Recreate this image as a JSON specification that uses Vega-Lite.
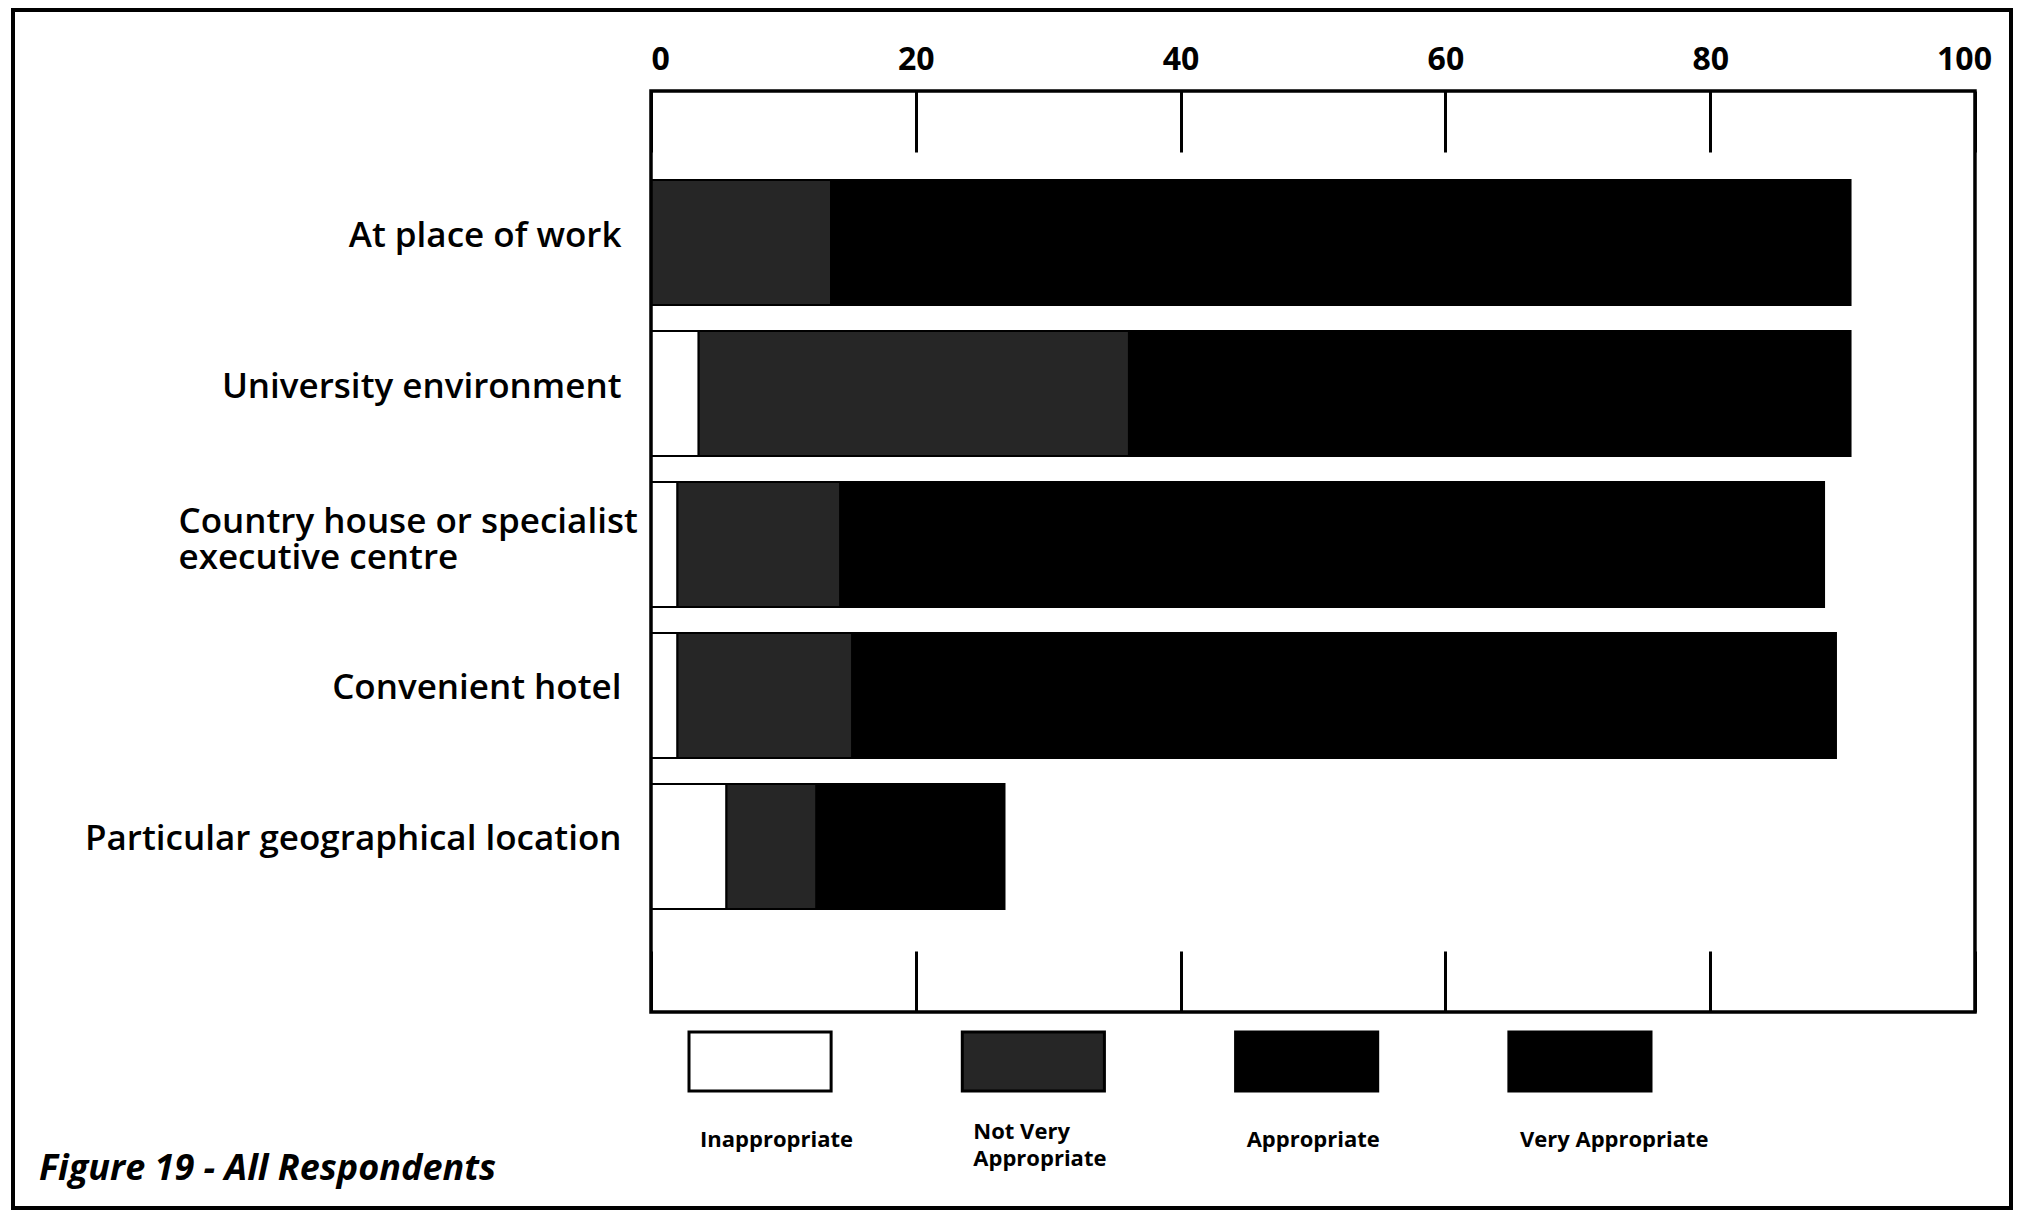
{
  "$schema": "https://vega.github.io/schema/vega-lite/v6.json",
  "background": "white",
  "padding": {"left": 13, "top": 10, "right": 3, "bottom": 2},
  "width": 1998,
  "height": 1198,
  "view": {"stroke": "black", "strokeWidth": 4},
  "title": {
    "text": "Figure 19 - All Respondents",
    "orient": "bottom",
    "anchor": "start",
    "frame": "group",
    "font": "Open Sans",
    "fontSize": 36,
    "fontWeight": "bold",
    "fontStyle": "italic",
    "color": "black",
    "offset": -56,
    "dx": 26
  },
  "datasets": {
    "bars": [
      {"place": "At place of work", "rating": "Inappropriate", "level": 1, "pct": 0},
      {"place": "At place of work", "rating": "Not Very Appropriate", "level": 2, "pct": 13.6},
      {"place": "At place of work", "rating": "Appropriate", "level": 3, "pct": 35},
      {"place": "At place of work", "rating": "Very Appropriate", "level": 4, "pct": 42},
      {"place": "University environment", "rating": "Inappropriate", "level": 1, "pct": 3.6},
      {"place": "University environment", "rating": "Not Very Appropriate", "level": 2, "pct": 32.5},
      {"place": "University environment", "rating": "Appropriate", "level": 3, "pct": 36},
      {"place": "University environment", "rating": "Very Appropriate", "level": 4, "pct": 18.5},
      {"place": "Country house or specialist executive centre", "rating": "Inappropriate", "level": 1, "pct": 2},
      {"place": "Country house or specialist executive centre", "rating": "Not Very Appropriate", "level": 2, "pct": 12.3},
      {"place": "Country house or specialist executive centre", "rating": "Appropriate", "level": 3, "pct": 38},
      {"place": "Country house or specialist executive centre", "rating": "Very Appropriate", "level": 4, "pct": 36.3},
      {"place": "Convenient hotel", "rating": "Inappropriate", "level": 1, "pct": 2},
      {"place": "Convenient hotel", "rating": "Not Very Appropriate", "level": 2, "pct": 13.2},
      {"place": "Convenient hotel", "rating": "Appropriate", "level": 3, "pct": 40},
      {"place": "Convenient hotel", "rating": "Very Appropriate", "level": 4, "pct": 34.3},
      {"place": "Particular geographical location", "rating": "Inappropriate", "level": 1, "pct": 5.7},
      {"place": "Particular geographical location", "rating": "Not Very Appropriate", "level": 2, "pct": 6.8},
      {"place": "Particular geographical location", "rating": "Appropriate", "level": 3, "pct": 10},
      {"place": "Particular geographical location", "rating": "Very Appropriate", "level": 4, "pct": 4.2}
    ],
    "ratings": [
      {"rating": "Inappropriate"},
      {"rating": "Not Very Appropriate"},
      {"rating": "Appropriate"},
      {"rating": "Very Appropriate"}
    ],
    "panels": [
      {"panel": "plot area"}
    ]
  },
  "layer": [
    {
      "data": {"name": "bars"},
      "mark": {"type": "bar", "stroke": "black", "strokeWidth": 2},
      "encoding": {
        "y": {
          "field": "place",
          "type": "nominal",
          "sort": ["At place of work", "University environment", "Country house or specialist executive centre", "Convenient hotel", "Particular geographical location"],
          "scale": {"range": [170, 899], "paddingInner": 0.172, "paddingOuter": 0},
          "axis": {
            "orient": "left",
            "offset": -638,
            "title": null,
            "domain": false,
            "ticks": false,
            "tickSize": 0,
            "grid": false,
            "labelFont": "Open Sans",
            "labelFontWeight": 600,
            "labelFontSize": 35,
            "labelColor": "black",
            "labelLimit": 800,
            "labelLineHeight": 36,
            "labelBaseline": "middle",
            "labelOffset": {"condition": {"test": "datum.value == 'Country house or specialist executive centre'", "value": -23}, "value": -7},
            "labelAlign": {"condition": {"test": "datum.value == 'Country house or specialist executive centre'", "value": "left"}, "value": "right"},
            "labelPadding": {"condition": {"test": "datum.value == 'Country house or specialist executive centre'", "value": 473}, "value": 30},
            "labelExpr": "datum.label == 'Country house or specialist executive centre' ? ['Country house or specialist', 'executive centre'] : datum.label"
          }
        },
        "x": {
          "field": "pct",
          "type": "quantitative",
          "stack": "zero",
          "scale": {"domain": [-48.187, 102.72], "nice": false, "zero": false},
          "axis": null
        },
        "color": {
          "field": "rating",
          "type": "nominal",
          "scale": {"domain": ["Inappropriate", "Not Very Appropriate", "Appropriate", "Very Appropriate"], "range": ["#ffffff", "#262626", "#000000", "#000000"]},
          "legend": null
        },
        "order": {"field": "level", "type": "quantitative", "sort": "ascending"}
      }
    },
    {
      "data": {"name": "ratings"},
      "mark": {"type": "rect", "stroke": "black", "strokeWidth": 3},
      "encoding": {
        "x": {
          "field": "rating",
          "type": "nominal",
          "sort": ["Inappropriate", "Not Very Appropriate", "Appropriate", "Very Appropriate"],
          "scale": {"range": [676, 1638], "paddingInner": 0.48, "paddingOuter": 0},
          "axis": {
            "orient": "bottom",
            "offset": -196,
            "title": null,
            "domain": false,
            "ticks": false,
            "tickSize": 0,
            "grid": false,
            "labelAngle": 0,
            "labelFont": "Open Sans",
            "labelFontWeight": "bold",
            "labelFontSize": 22,
            "labelColor": "black",
            "labelPadding": {"condition": {"test": "datum.value == 'Not Very Appropriate'", "value": 119}, "value": 127},
            "labelBaseline": "middle",
            "labelAlign": "left",
            "labelOffset": -60,
            "labelLineHeight": 27,
            "labelLimit": 400,
            "labelExpr": "datum.label == 'Not Very Appropriate' ? ['Not Very', 'Appropriate'] : datum.label"
          }
        },
        "y": {
          "datum": "swatch",
          "type": "nominal",
          "scale": {"domain": ["swatch"], "range": [1022, 1081], "paddingInner": 0, "paddingOuter": 0},
          "axis": null
        },
        "color": {
          "field": "rating",
          "type": "nominal",
          "legend": null
        }
      }
    },
    {
      "data": {"name": "panels"},
      "mark": {"type": "rect", "filled": false, "stroke": "black", "strokeWidth": 3.5},
      "encoding": {
        "x": {
          "datum": 0,
          "type": "quantitative",
          "scale": {"domain": [-48.187, 102.72], "nice": false, "zero": false},
          "axis": {
            "orient": "top",
            "offset": -81,
            "title": null,
            "values": [0, 20, 40, 60, 80, 100],
            "domain": false,
            "ticks": false,
            "tickSize": 0,
            "grid": true,
            "gridColor": "black",
            "gridOpacity": 1,
            "gridWidth": 3,
            "gridDash": [61, 799, 61],
            "labelFont": "Open Sans",
            "labelFontWeight": "bold",
            "labelFontSize": 32,
            "labelColor": "black",
            "labelPadding": 32,
            "labelBaseline": "middle",
            "labelFlush": false,
            "labelAlign": {"condition": {"test": "datum.value == 0", "value": "left"}, "value": "center"},
            "labelOffset": {"condition": {"test": "datum.value == 100", "value": -11}, "value": 0}
          }
        },
        "x2": {"datum": 100},
        "y": {
          "field": "panel",
          "type": "nominal",
          "scale": {"domain": ["plot area"], "range": [81, 1002], "paddingInner": 0, "paddingOuter": 0},
          "axis": null
        }
      }
    }
  ],
  "resolve": {
    "scale": {"x": "independent", "y": "independent"},
    "axis": {"x": "independent", "y": "independent"}
  }
}
